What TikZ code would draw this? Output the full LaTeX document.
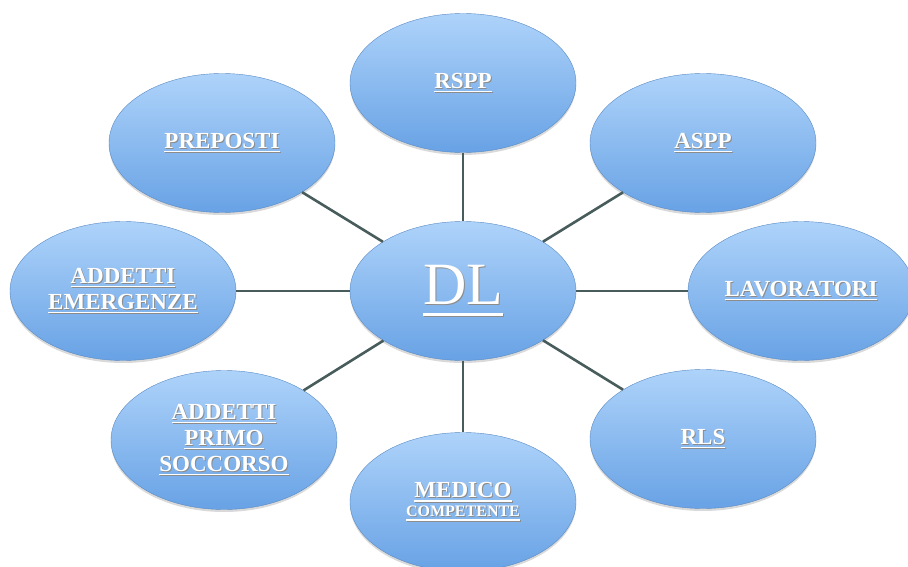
\documentclass[tikz,border=0pt]{standalone}
\usepackage{fontspec}
\setmainfont{Liberation Serif}
\usetikzlibrary{shapes.geometric,shadows}
\definecolor{bleuhaut}{RGB}{174,211,250}
\definecolor{bleubas}{RGB}{104,162,229}
\definecolor{trait}{RGB}{72,92,92}
% texte souligne avec une ombre grise : #1 = descente du trait, #2 = epaisseur
\newcommand\souligne[3]{%
  \setbox0=\hbox{#3}%
  \rlap{\kern1pt\raisebox{-1pt}{\color{black!45}\copy0\llap{\rule[#1]{\wd0}{#2}}}}%
  \copy0\llap{\rule[#1]{\wd0}{#2}}}
\newcommand\titre[1]{\souligne{-4pt}{1.4pt}{#1}}
\tikzset{
  bulle/.style={ellipse, minimum width=226pt, minimum height=139pt, inner sep=0pt,
    top color=bleuhaut, bottom color=bleubas, draw=bleubas!85!black, line width=0.4pt,
    drop shadow={opacity=0.3, shadow xshift=0pt, shadow yshift=-2.5pt},
    text=white, align=center, font=\bfseries\fontsize{23}{26}\selectfont},
  lien/.style={color=trait, line width=2.6pt}
}
\begin{document}
\begin{tikzpicture}[x=1pt,y=1pt]
\clip (0,0) rectangle (908,566);
% le DL au centre
\node[bulle, font=\mdseries\fontsize{60}{62}\selectfont] (dl) at (463,275) {\souligne{-12pt}{3pt}{DL}};
% les autres figures autour
\node[bulle] (rspp) at (463,483) {\titre{RSPP}};
\node[bulle] (preposti) at (222,423) {\titre{PREPOSTI}};
\node[bulle] (aspp) at (703,423) {\titre{ASPP}};
\node[bulle] (emergenze) at (123,275) {\titre{ADDETTI}\\\titre{EMERGENZE}};
\node[bulle] (lavoratori) at (801,275) {\titre{LAVORATORI}};
\node[bulle] (soccorso) at (224,126) {\titre{ADDETTI}\\\titre{PRIMO}\\\titre{SOCCORSO}};
\node[bulle] (rls) at (703,127) {\titre{RLS}};
\node[bulle] (medico) at (463,64) {\titre{MEDICO}\\[-7pt]{\fontsize{16}{18}\selectfont\titre{COMPETENTE}}};
% les liens
\draw[lien] (dl) -- (rspp);
\draw[lien] (dl) -- (preposti);
\draw[lien] (dl) -- (aspp);
\draw[lien] (dl) -- (emergenze);
\draw[lien] (dl) -- (lavoratori);
\draw[lien] (dl) -- (soccorso);
\draw[lien] (dl) -- (rls);
\draw[lien] (dl) -- (medico);
\end{tikzpicture}
\end{document}
